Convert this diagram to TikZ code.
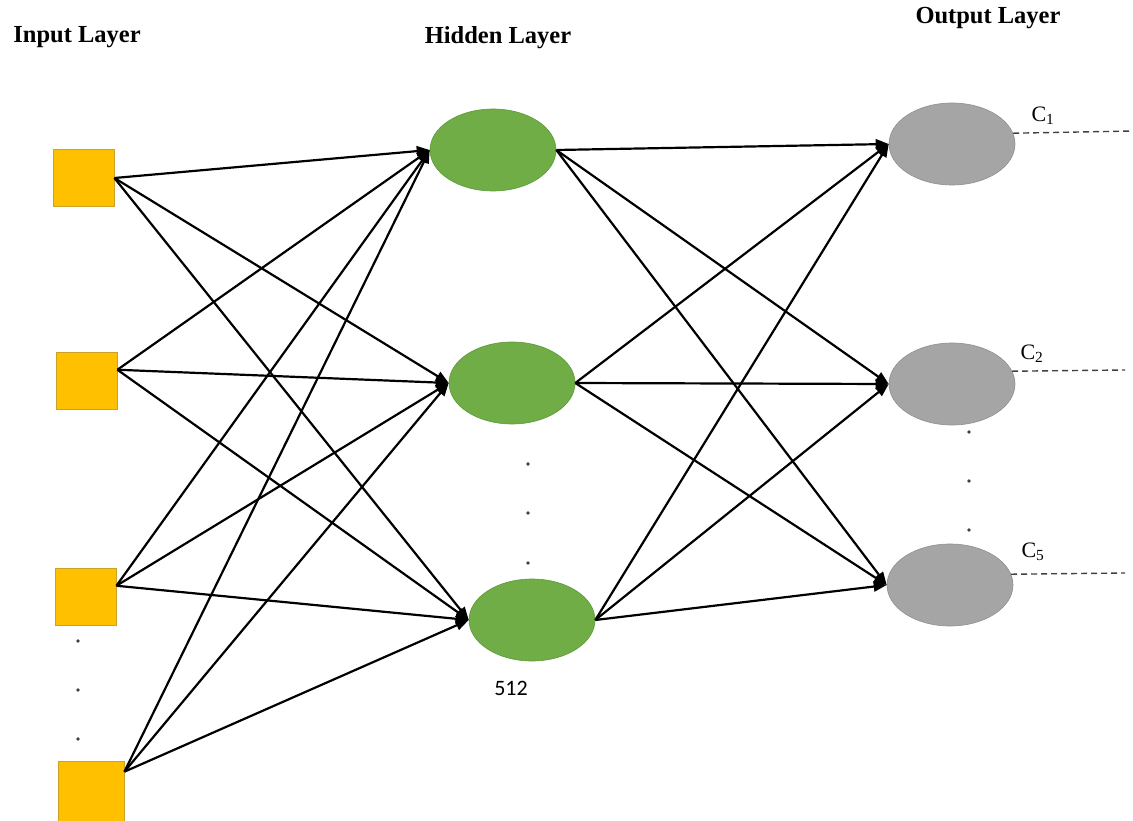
\documentclass[tikz,border=0pt]{standalone}
\usepackage{fontspec}
\setmainfont{Liberation Serif}
\newfontfamily\calfont{Carlito}
\usetikzlibrary{shapes.geometric,arrows.meta}
\definecolor{inyellow}{HTML}{FFC000}
\definecolor{inborder}{HTML}{C9A227}
\definecolor{hidgreen}{HTML}{70AD47}
\definecolor{hidborder}{HTML}{5E9A3A}
\definecolor{outgray}{HTML}{A5A5A5}
\definecolor{outborder}{HTML}{8F8F8F}
\definecolor{dotgray}{HTML}{404040}
\tikzset{
  inbox/.style={rectangle, draw=inborder, fill=inyellow, line width=0.8pt,
    minimum width=61pt, minimum height=57pt, inner sep=0pt},
  hidnode/.style={ellipse, draw=hidborder, fill=hidgreen, line width=0.6pt,
    minimum width=126pt, minimum height=82pt, inner sep=0pt},
  outnode/.style={ellipse, draw=outborder, fill=outgray, line width=0.6pt,
    minimum width=126pt, minimum height=82pt, inner sep=0pt},
  edge/.style={line width=2.2pt, -{Triangle[length=13pt,width=10pt]}},
  outline/.style={dashed, dash pattern=on 6pt off 4pt, line width=1.4pt, draw=dotgray},
  title/.style={font=\fontsize{24.5}{27}\selectfont\bfseries, inner sep=0pt},
  clabel/.style={font=\fontsize{22}{24}\selectfont, inner sep=0pt},
  vdot/.style={circle, fill=dotgray, minimum size=3.6pt, inner sep=0pt},
}
\begin{document}
\begin{tikzpicture}[x=1pt, y=-1pt]
\useasboundingbox (0,0) rectangle (1133,821);

% layer titles
\node[title] (tin)  at (77,37)  {Input Layer};
\node[title] (thid) at (498,38) {Hidden Layer};
\node[title] (tout) at (988,18) {Output Layer};

% input units
\node[inbox] (s1) at (83.5,178) {};
\node[inbox] (s2) at (86.5,381) {};
\node[inbox] (s3) at (85.5,597) {};
\node[inbox, minimum width=66pt, minimum height=60pt] (s4) at (91,791) {};
\node[vdot] (id1) at (78,641) {};
\node[vdot] (id2) at (78,690) {};
\node[vdot] (id3) at (78,739) {};

% hidden units
\node[hidnode] (h1) at (493,150) {};
\node[hidnode] (h2) at (512,383) {};
\node[hidnode] (h3) at (532,620) {};
\node[vdot] (hd1) at (528,464) {};
\node[vdot] (hd2) at (528,513) {};
\node[vdot] (hd3) at (528,563) {};
\node[font=\calfont\fontsize{22}{24}\selectfont, inner sep=0pt] (n512) at (511,688) {512};

% output units
\node[outnode] (o1) at (952,144) {};
\node[outnode] (o2) at (952,384) {};
\node[outnode] (o3) at (950,585) {};
\node[vdot] (od1) at (969,432) {};
\node[vdot] (od2) at (969,481) {};
\node[vdot] (od3) at (969,530) {};

% ports where the connections leave the input units
\coordinate (s1o) at (s1.east);
\coordinate (s2o) at (s2.20);
\coordinate (s3o) at (s3.20);
\coordinate (s4o) at (s4.30);

% input -> hidden
\foreach \i in {s1o,s2o,s3o,s4o}
  \foreach \j in {h1,h2,h3}
    \draw[edge] (\i) -- (\j.west);

% hidden -> output
\foreach \i in {h1,h2,h3}
  \foreach \j in {o1,o2,o3}
    \draw[edge] (\i.east) -- (\j.west);

% class outputs
\coordinate (e1) at (1133,131);
\coordinate (e2) at (1125,370);
\coordinate (e3) at (1125,573);
\draw[outline] (o1.10) -- (e1);
\draw[outline] (o2.12) -- (e2);
\draw[outline] (o3.10) -- (e3);
\node[clabel] (c1) at (1043,116) {C\textsubscript{1}};
\node[clabel] (c2) at (1032,354) {C\textsubscript{2}};
\node[clabel] (c5) at (1033,552) {C\textsubscript{5}};
\end{tikzpicture}
\end{document}
